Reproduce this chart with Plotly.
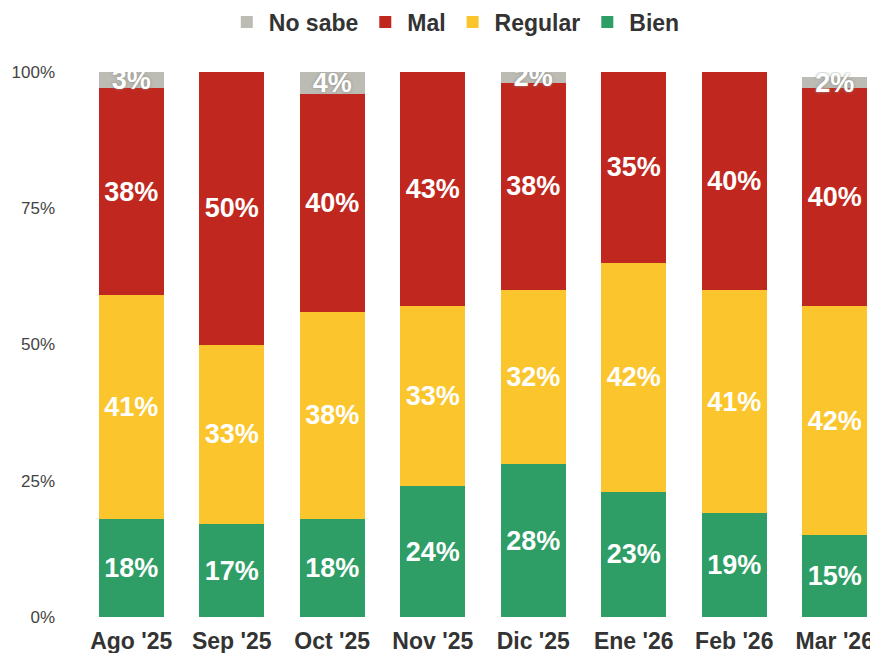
import plotly.graph_objects as go

months = ["Ago '25", "Sep '25", "Oct '25", "Nov '25", "Dic '25", "Ene '26", "Feb '26", "Mar '26"]
bien = [18, 17, 18, 24, 28, 23, 19, 15]
regular = [41, 33, 38, 33, 32, 42, 41, 42]
mal = [38, 50, 40, 43, 38, 35, 40, 40]
no_sabe = [3, 0, 4, 0, 2, 0, 0, 2]
y_ticks = [0, 25, 50, 75, 100]
y_tick_labels = ["0%", "25%", "50%", "75%", "100%"]

series = [
    ("Bien", bien, "#2f9e66"),
    ("Regular", regular, "#fbc62d"),
    ("Mal", mal, "#c0281f"),
    ("No sabe", no_sabe, "#bcbbb4"),
]

FONT = "Liberation Sans, Arial, sans-serif"

fig = go.Figure()
for name, vals, color in series:
    texts = [f"{v}%" if v > 0 else "" for v in vals]
    fig.add_trace(go.Bar(
        x=months, y=vals, name=name, marker=dict(color=color, line=dict(width=0)),
        text=texts, textposition="inside", insidetextanchor="middle",
        constraintext="none",
        textfont=dict(family=FONT, size=27, color="white", weight="bold",
                      shadow="0px 0px 3px #8a8a84" if name == "No sabe" else "none"),
        hoverinfo="skip",
    ))

# the page body adds an 8px offset, so the figure is 8px smaller and margins compensate
fig.update_layout(
    width=870, height=645,
    barmode="stack", bargap=0.35,
    plot_bgcolor="white", paper_bgcolor="white",
    margin=dict(l=73, r=0, t=64, b=36, autoexpand=False),
    showlegend=True,
    legend=dict(orientation="h", x=0.469, xanchor="center", y=1.0917, yanchor="middle",
                yref="paper", traceorder="reversed",
                font=dict(family=FONT, size=23, color="#333333", weight="bold"),
                itemwidth=34),
    xaxis=dict(range=[-0.5, 7.43], showgrid=False, showline=False, zeroline=False,
               automargin=False,
               tickfont=dict(family=FONT, size=23, color="#333333", weight="bold"),
               ticks="", ticklabelstandoff=8),
    yaxis=dict(range=[0, 100], tickvals=y_ticks, ticktext=y_tick_labels,
               showgrid=False, showline=False, zeroline=False, ticks="",
               automargin=False,
               tickfont=dict(family=FONT, size=17, color="#444444"),
               ticklabelstandoff=25),
)

fig.write_html("out.html")
